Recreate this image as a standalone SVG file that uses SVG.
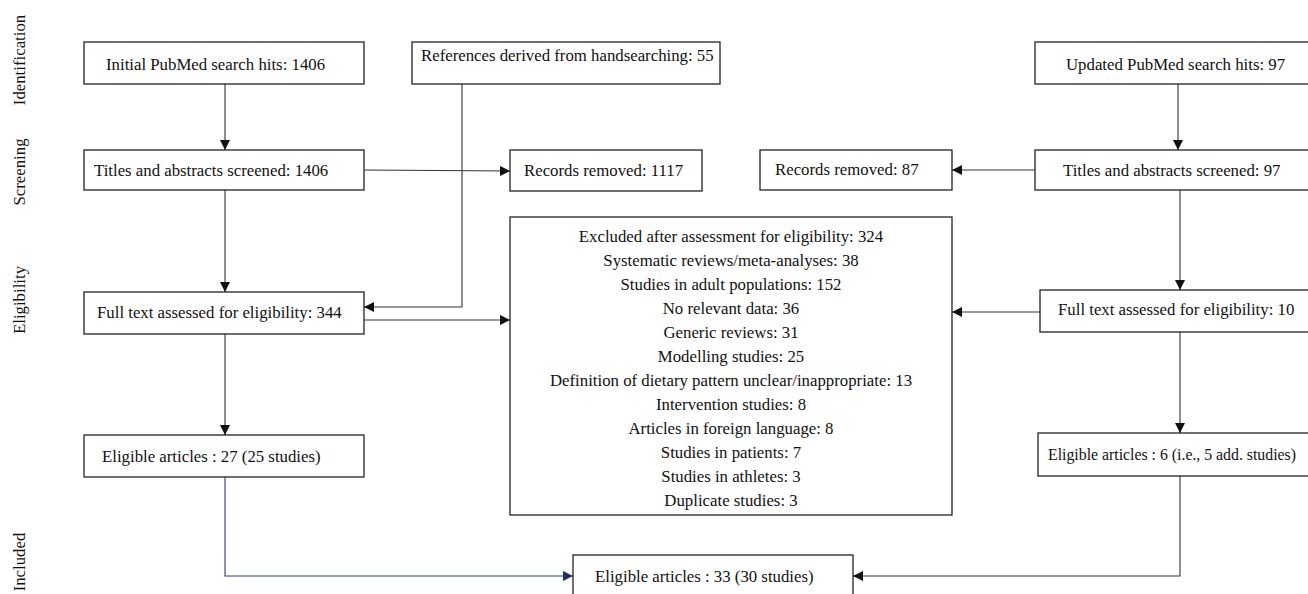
<svg xmlns="http://www.w3.org/2000/svg" width="1308" height="594" viewBox="0 0 1308 594">
<style>
.box{fill:#fff;stroke:#222;stroke-width:1.3}
text{font-family:"Liberation Serif","DejaVu Serif",serif;font-size:16.8px;fill:#111}
.c{text-anchor:middle}
.side{font-size:16.8px}
.ln{fill:none;stroke:#333;stroke-width:1.1}
.blue{fill:none;stroke:#2b3f7a;stroke-width:1.1}
</style>
<defs>
<marker id="ah" viewBox="0 0 10 10" refX="10" refY="5" markerWidth="10" markerHeight="10" markerUnits="userSpaceOnUse" orient="auto"><path d="M0,0 L10,5 L0,10 z" fill="#111"/></marker>
<marker id="ahb" viewBox="0 0 10 10" refX="10" refY="5" markerWidth="10" markerHeight="10" markerUnits="userSpaceOnUse" orient="auto"><path d="M0,0 L10,5 L0,10 z" fill="#1f2f66"/></marker>
</defs>
<rect width="1308" height="594" fill="#fff"/>
<g id="labels">
<text class="side c" transform="translate(25,60) rotate(-90)">Identification</text>
<text class="side c" transform="translate(25,172) rotate(-90)">Screening</text>
<text class="side c" transform="translate(25,300) rotate(-90)">Eligibility</text>
<text class="side c" transform="translate(25,562) rotate(-90)">Included</text>
</g>
<g id="connectors">
<line class="ln" x1="225" y1="84" x2="225" y2="150" marker-end="url(#ah)"/>
<line class="ln" x1="364" y1="170" x2="510" y2="171" marker-end="url(#ah)"/>
<line class="ln" x1="225" y1="190" x2="225" y2="292" marker-end="url(#ah)"/>
<polyline class="ln" points="462,84 462,307 364,307" marker-end="url(#ah)"/>
<line class="ln" x1="364" y1="320" x2="510" y2="320" marker-end="url(#ah)"/>
<line class="ln" x1="225" y1="334" x2="225" y2="435" marker-end="url(#ah)"/>
<polyline class="blue" points="225,477 225,576 573,576" marker-end="url(#ahb)"/>
<line class="ln" x1="1178" y1="84" x2="1178" y2="150" marker-end="url(#ah)"/>
<line class="ln" x1="1035" y1="170" x2="952" y2="170" marker-end="url(#ah)"/>
<line class="ln" x1="1180" y1="190" x2="1180" y2="290" marker-end="url(#ah)"/>
<line class="ln" x1="1040" y1="312" x2="952" y2="312" marker-end="url(#ah)"/>
<line class="ln" x1="1180" y1="332" x2="1180" y2="433" marker-end="url(#ah)"/>
<polyline class="ln" points="1180,476 1180,576 853,576" marker-end="url(#ah)"/>
</g>
<g id="initial"><rect class="box" x="84" y="42" width="280" height="42"/><text x="106" y="70">Initial PubMed search hits: 1406</text></g>
<g id="handsearch"><rect class="box" x="412" y="42" width="308" height="42"/><text x="421" y="61">References derived from handsearching: 55</text></g>
<g id="updated"><rect class="box" x="1035" y="42" width="280" height="42"/><text x="1066" y="70">Updated PubMed search hits: 97</text></g>
<g id="screened1"><rect class="box" x="84" y="150" width="280" height="40"/><text x="94" y="176">Titles and abstracts screened: 1406</text></g>
<g id="removed1"><rect class="box" x="510" y="150" width="192" height="41"/><text x="524" y="176">Records removed: 1117</text></g>
<g id="removed2"><rect class="box" x="760" y="150" width="192" height="40"/><text x="775" y="175">Records removed: 87</text></g>
<g id="screened2"><rect class="box" x="1035" y="150" width="280" height="40"/><text x="1063" y="176">Titles and abstracts screened: 97</text></g>
<g id="excluded"><rect class="box" x="510" y="217" width="442" height="298"/>
<text class="c" x="731" y="242">Excluded after assessment for eligibility: 324</text>
<text class="c" x="731" y="266">Systematic reviews/meta-analyses: 38</text>
<text class="c" x="731" y="290">Studies in adult populations: 152</text>
<text class="c" x="731" y="314">No relevant data: 36</text>
<text class="c" x="731" y="338">Generic reviews: 31</text>
<text class="c" x="731" y="362">Modelling studies: 25</text>
<text class="c" x="731" y="386">Definition of dietary pattern unclear/inappropriate: 13</text>
<text class="c" x="731" y="410">Intervention studies: 8</text>
<text class="c" x="731" y="434">Articles in foreign language: 8</text>
<text class="c" x="731" y="458">Studies in patients: 7</text>
<text class="c" x="731" y="482">Studies in athletes: 3</text>
<text class="c" x="731" y="506">Duplicate studies: 3</text>
</g>
<g id="fulltext1"><rect class="box" x="84" y="292" width="280" height="42"/><text x="97" y="318">Full text assessed for eligibility: 344</text></g>
<g id="fulltext2"><rect class="box" x="1040" y="290" width="275" height="42"/><text x="1058" y="315">Full text assessed for eligibility: 10</text></g>
<g id="eligible1"><rect class="box" x="84" y="435" width="280" height="42"/><text x="102" y="462">Eligible articles : 27 (25 studies)</text></g>
<g id="eligible2"><rect class="box" x="1038" y="433" width="277" height="43"/><text x="1048" y="460" style="font-size:16px" textLength="248" lengthAdjust="spacingAndGlyphs">Eligible articles : 6 (i.e., 5 add. studies)</text></g>
<g id="eligible3"><rect class="box" x="573" y="555" width="280" height="50"/><text x="595" y="582">Eligible articles : 33 (30 studies)</text></g>
</svg>
